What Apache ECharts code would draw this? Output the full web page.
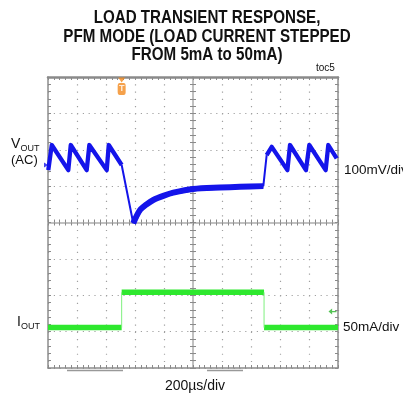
<!DOCTYPE html>
<html>
<head>
<meta charset="utf-8">
<script src="https://cdn.jsdelivr.net/npm/echarts@6/dist/echarts.min.js"></script>
<style>
  html, body { margin: 0; padding: 0; background: #fff; }
  #app { width: 403px; height: 400px; }
</style>
</head>
<body>
<div id="app"></div>
<script>
// time in µs (200µs/div, 10 div), level in screen divisions from the bottom (8 div)
const vOut = [
  [2, 5.44], [26, 6.13], [140, 5.44], [157, 6.13], [267, 5.44], [285, 6.13],
  [405, 5.44], [419, 6.13], [508, 5.58], [588, 3.98], [634, 4.34], [680, 4.5],
  [726, 4.62], [800, 4.74], [864, 4.82], [1002, 4.92], [1186, 4.96], [1324, 4.98],
  [1485, 5.0], [1508, 5.85], [1543, 6.08], [1651, 5.44], [1669, 6.13], [1779, 5.44],
  [1802, 6.13], [1915, 5.44], [1933, 6.13], [1991, 5.76]
];
const vOutFastEdges = [8, 18];    // segments that start at these points are fast (thin) edges
const vOutRecovery = [9, 19];     // slice of vOut for the noisy recovery
const iOutLevels = [1.11, 2.08, 1.11];
const iOutSteps = [0, 508, 1490, 2000];
const triggerAt = 508;
const vOutMarker = [0, 5.58];
const iOutMarker = [1962, 1.55];

const vThick = [];
const vThin = [];
vOut.forEach((p, i) => {
  vThick.push(p);
  if (vOutFastEdges.includes(i)) {
    vThick.push([p[0], '-']);
    if (vThin.length) vThin.push([p[0], '-']);
    vThin.push(p, vOut[i + 1]);
  }
});
const iLevelData = [];
iOutLevels.forEach((lv, i) => {
  if (i) iLevelData.push([iOutSteps[i], '-']);
  iLevelData.push([iOutSteps[i], lv], [iOutSteps[i + 1], lv]);
});
const iEdgeData = [];
for (let i = 1; i < iOutLevels.length; i++) {
  if (i > 1) iEdgeData.push([iOutSteps[i], '-']);
  iEdgeData.push([iOutSteps[i], iOutLevels[i - 1]], [iOutSteps[i], iOutLevels[i]]);
}

const chart = echarts.init(document.getElementById('app'));
const hidden = { show: false };
const tickStyle = { color: '#8a8a8a', width: 1 };

function xFrame(position, offset, inside, line) {
  return {
    type: 'value', min: 0, max: 2000, interval: 40, position, offset,
    axisLine: { show: true, onZero: false, lineStyle: line },
    axisTick: { show: true, inside, length: 3, lineStyle: tickStyle },
    axisLabel: hidden, splitLine: hidden
  };
}
function yFrame(position, offset, inside, line) {
  return {
    type: 'value', min: 0, max: 8, interval: 0.2, position, offset,
    axisLine: { show: true, onZero: false, lineStyle: line },
    axisTick: { show: true, inside, length: 3, lineStyle: tickStyle },
    axisLabel: hidden, splitLine: hidden
  };
}
const frameLine = { color: '#8c8c8c', width: 1.5 };
const centerLine = { color: '#bdbdbd', width: 1.5 };
const blue = '#1414ea';

const txt = (x, y, text, size, extra) => ({
  type: 'text', x, y,
  style: Object.assign({ text, fontSize: size, fontFamily: 'Liberation Sans', fill: '#111',
    textVerticalAlign: 'middle' }, extra || {})
});

chart.setOption({
  backgroundColor: '#fff',
  animation: false,
  grid: { left: 48, top: 77, width: 290, height: 291, show: false },
  xAxis: [
    {
      type: 'value', min: 0, max: 2000, interval: 200,
      axisLine: { show: false, onZero: false }, axisTick: hidden, axisLabel: hidden,
      splitLine: { show: true, lineStyle: { color: '#a0a0a0', width: 1.2, type: [1.2, 6.08] } }
    },
    xFrame('bottom', 0, true, frameLine),
    xFrame('top', 0, true, { color: '#8a8a8a', width: 2.5 }),
    xFrame('bottom', -145.5, true, centerLine),
    xFrame('bottom', -145.5, false, centerLine)
  ],
  yAxis: [
    {
      type: 'value', min: 0, max: 8, interval: 1,
      axisLine: { show: false, onZero: false }, axisTick: hidden, axisLabel: hidden,
      splitLine: { show: true, lineStyle: { color: '#a0a0a0', width: 1.2, type: [1.2, 4.6] } }
    },
    yFrame('left', 0, true, frameLine),
    yFrame('right', 0, true, frameLine),
    yFrame('left', -145, true, centerLine),
    yFrame('left', -145, false, centerLine)
  ],
  series: [
    {
      name: 'IOUT', type: 'line', data: iLevelData, showSymbol: false, silent: true,
      lineStyle: { color: '#2ee82e', width: 5.5 }, connectNulls: false
    },
    {
      name: 'IOUT edge', type: 'line', data: iEdgeData, showSymbol: false, silent: true,
      lineStyle: { color: '#7ef07e', width: 1 }, connectNulls: false
    },
    {
      name: 'VOUT', type: 'line', data: vThick, showSymbol: false, silent: true,
      lineStyle: { color: blue, width: 4.3, join: 'round' }, connectNulls: false
    },
    {
      name: 'VOUT edge', type: 'line', data: vThin, showSymbol: false, silent: true,
      lineStyle: { color: blue, width: 2 }, connectNulls: false
    },
    {
      name: 'VOUT noise', type: 'line', data: vOut.slice(vOutRecovery[0], vOutRecovery[1]),
      showSymbol: false, silent: true, smooth: 0.3,
      lineStyle: { color: blue, width: 6 }
    },
    {
      type: 'scatter', silent: true, data: [[triggerAt, 8]],
      symbol: 'roundRect', symbolSize: [8, 12], symbolOffset: [0, 12],
      itemStyle: { color: '#f28a1e' },
      label: { show: true, position: 'inside', formatter: 'T', color: '#fff',
        fontSize: 9, fontWeight: 'bold', fontFamily: 'Liberation Sans' }
    },
    {
      type: 'scatter', silent: true, data: [[triggerAt, 8]],
      symbol: 'triangle', symbolRotate: 180, symbolSize: [7, 5], symbolOffset: [0, 3],
      itemStyle: { color: '#f28a1e' }
    },
    {
      type: 'scatter', silent: true, data: [vOutMarker],
      symbol: 'triangle', symbolRotate: -90, symbolSize: [5, 4], symbolOffset: [-2, 0],
      itemStyle: { color: blue }
    },
    {
      type: 'scatter', silent: true, data: [iOutMarker],
      symbol: 'path://M0,5L5,0L5,10Z M5,4L11,4L11,6L5,6Z', symbolSize: [8, 6],
      itemStyle: { color: '#2bb52b' }
    }
  ],
  graphic: [
    {
      type: 'text', x: 207, y: 9, scaleX: 0.82,
      style: {
        text: 'LOAD TRANSIENT RESPONSE,\nPFM MODE (LOAD CURRENT STEPPED\nFROM 5mA to 50mA)',
        fontFamily: 'Liberation Sans', fontWeight: 'bold', fontSize: 18.5, lineHeight: 18.3,
        fill: '#111', textAlign: 'center', textVerticalAlign: 'top'
      }
    },
    txt(316, 68, 'toc5', 10),
    txt(11, 144, 'V', 14),
    txt(20.5, 149, 'OUT', 9),
    txt(11, 160, '(AC)', 13),
    txt(17, 322, 'I', 14),
    txt(21, 327, 'OUT', 9),
    txt(344, 170, '100mV/div', 13.5),
    txt(343, 327, '50mA/div', 13.5),
    txt(195, 386, '200µs/div', 14, { textAlign: 'center' }),
    { type: 'line', shape: { x1: 67, y1: 370.5, x2: 123, y2: 370.5 }, style: { stroke: '#999', lineWidth: 1.5 } },
    { type: 'line', shape: { x1: 207, y1: 370.5, x2: 243, y2: 370.5 }, style: { stroke: '#999', lineWidth: 1.5 } }
  ]
});
</script>
</body>
</html>
